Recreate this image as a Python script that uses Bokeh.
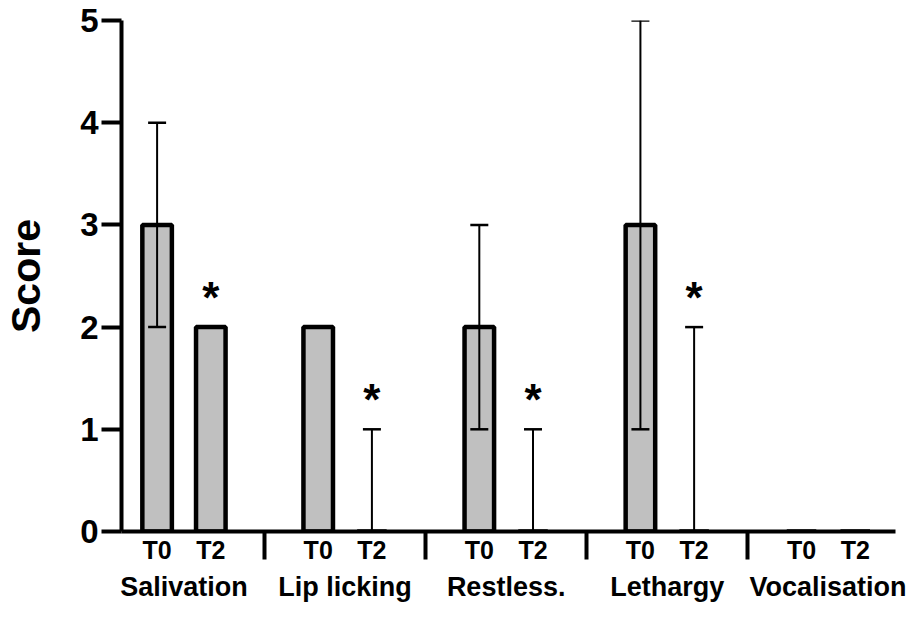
from bokeh.plotting import figure
from bokeh.models import Range1d, FixedTicker, LinearAxis, Whisker, TeeHead, ColumnDataSource
from bokeh.core.properties import value
from bokeh.embed import file_html
from bokeh.resources import INLINE

# ---- data ----
groups = ["Salivation", "Lip licking", "Restless.", "Lethargy", "Vocalisation"]
times = ["T0", "T2"]
t0_score = [3, 2, 2, 3, 0]
t0_low = [2, 2, 1, 1, 0]
t0_high = [4, 2, 3, 5, 0]
t2_score = [2, 0, 0, 0, 0]
t2_low = [2, 0, 0, 0, 0]
t2_high = [2, 1, 1, 2, 0]
t2_mark = ["*", "*", "*", "*", ""]
y_ticks = [0, 1, 2, 3, 4, 5]

FONT = "Liberation Sans"
n = len(groups)
slot = 3  # T0, T2, gap
x_t0 = [slot * i for i in range(n)]
x_t2 = [slot * i + 1 for i in range(n)]
x_sep = [slot * i + 2 for i in range(n - 1)]
x_grp = [slot * i + 0.5 for i in range(n)]

p = figure(width=906, height=604, output_backend="svg", toolbar_location=None,
           x_range=Range1d(-0.663, slot * (n - 1) + 1 + 0.75),
           y_range=Range1d(0, 5),
           min_border_left=120, min_border_right=11,
           min_border_top=20, min_border_bottom=73)
p.outline_line_color = None
p.grid.visible = False
p.background_fill_color = "white"

src = ColumnDataSource(dict(
    x=x_t0 + x_t2,
    score=t0_score + t2_score,
    lo=t0_low + t2_low,
    hi=t0_high + t2_high,
))
p.vbar(x="x", top="score", width=0.55, source=src,
       fill_color="#c0c0c0", line_color="black", line_width=4.5)

wh = Whisker(source=src, base="x", upper="hi", lower="lo",
             line_color="black", line_width=2, level="annotation",
             upper_head=TeeHead(size=18, line_width=2.5, line_color="black"),
             lower_head=TeeHead(size=18, line_width=2.5, line_color="black"))
p.add_layout(wh)

p.text(x=x_t2, y=t2_high, text=t2_mark, text_font=value(FONT), text_font_style="bold",
       text_font_size="44px", text_align="center", text_baseline="alphabetic",
       y_offset=-30, text_color="black")

# y axis
ya = p.yaxis[0]
ya.ticker = FixedTicker(ticks=y_ticks)
ya.axis_line_width = 4
ya.major_tick_line_width = 4
ya.major_tick_out = 20
ya.major_tick_in = 0
ya.minor_tick_line_color = None
ya.major_label_text_font = FONT
ya.major_label_text_font_style = "bold"
ya.major_label_text_font_size = "33px"
ya.major_label_text_color = "black"
ya.major_label_standoff = 3
ya.axis_label = "Score"
ya.axis_label_text_font = FONT
ya.axis_label_text_font_style = "bold"
ya.axis_label_text_font_size = "41px"
ya.axis_label_text_color = "black"
ya.axis_label_standoff = 28

# x axis: T0/T2 labels + group separators
xa = p.xaxis[0]
xa.ticker = FixedTicker(ticks=sorted(x_t0 + x_t2), minor_ticks=x_sep)
xa.major_label_overrides = {**{float(x): times[0] for x in x_t0},
                            **{float(x): times[1] for x in x_t2}}
xa.axis_line_width = 4
xa.major_tick_out = 0
xa.major_tick_in = 0
xa.major_tick_line_color = None
xa.minor_tick_out = 28
xa.minor_tick_in = 0
xa.minor_tick_line_width = 4
xa.minor_tick_line_color = "black"
xa.major_label_text_font = FONT
xa.major_label_text_font_style = "bold"
xa.major_label_text_font_size = "25px"
xa.major_label_text_color = "black"
xa.major_label_standoff = -24

# group labels
ga = LinearAxis(ticker=FixedTicker(ticks=x_grp),
                major_label_overrides={float(x): g for x, g in zip(x_grp, groups)})
ga.axis_line_color = None
ga.major_tick_line_color = None
ga.minor_tick_line_color = None
ga.major_tick_out = 0
ga.major_tick_in = 0
ga.major_label_text_font = FONT
ga.major_label_text_font_style = "bold"
ga.major_label_text_font_size = "27px"
ga.major_label_text_color = "black"
ga.major_label_standoff = 5
p.add_layout(ga, "below")

open("out.html", "w").write(file_html(p, INLINE))
